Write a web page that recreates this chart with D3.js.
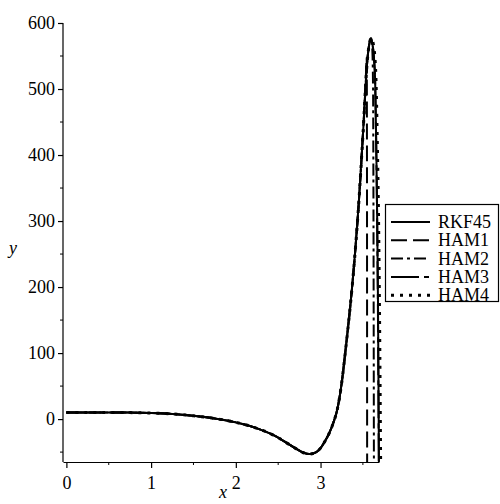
<!DOCTYPE html>
<html>
<head>
<meta charset="utf-8">
<script src="https://cdn.jsdelivr.net/npm/d3@7"></script>
<style>
  body { margin: 0; background: #fff; }
  text { font-family: "Liberation Serif", "Times New Roman", serif; }
</style>
</head>
<body>
<svg id="chart"></svg>
<script>
// common part of every solution (they all agree until the blow-up)
const commonX = [0, 0.25, 0.5, 0.75, 1.0, 1.25, 1.5, 1.75, 2.0, 2.25, 2.5, 2.6, 2.7, 2.8, 2.87, 2.95, 3.0, 3.05, 3.1, 3.15, 3.2, 3.25, 3.3, 3.35, 3.4, 3.45, 3.5];
const commonY = [10, 10, 10, 9.8, 9.2, 7.8, 5, 1, -5, -14, -28, -36, -44, -51, -53, -50, -44, -34, -22, -6, 16, 55, 110, 170, 240, 325, 430];

// tails after x = 3.5, one per curve
const rkfX  = [3.55, 3.575, 3.595, 3.61, 3.63, 3.645, 3.657, 3.667, 3.678, 3.69];
const rkfY  = [540, 568, 577, 570, 548, 510, 420, 320, 180, -80];
const ham1X = [3.53, 3.545, 3.548, 3.55];
const ham1Y = [500, 548, 400, -80];
const ham2X = [3.55, 3.575, 3.595, 3.61, 3.62, 3.625, 3.63];
const ham2Y = [540, 568, 577, 562, 500, 300, -80];
const ham3X = [3.55, 3.575, 3.595, 3.61, 3.63, 3.645, 3.657, 3.667, 3.677, 3.688];
const ham3Y = [540, 568, 577, 570, 548, 508, 415, 315, 170, -80];
const ham4X = [3.55, 3.575, 3.6, 3.62, 3.65, 3.67, 3.685, 3.7, 3.71];
const ham4Y = [540, 568, 577, 570, 530, 420, 300, 100, -80];

const seriesNames = ['RKF45', 'HAM1', 'HAM2', 'HAM3', 'HAM4'];
const yTicks = [0, 100, 200, 300, 400, 500, 600];
const xTicks = [0, 1, 2, 3];

function build(tx, ty) {
    const pts = commonX.map((x, i) => [x, commonY[i]]);
    return pts.concat(tx.map((x, i) => [x, ty[i]]));
}

const tails = [[rkfX, rkfY], [ham1X, ham1Y], [ham2X, ham2Y], [ham3X, ham3Y], [ham4X, ham4Y]];
const dashes = [null, '16,6', '12,4,3,4', '28,5,5,5', '3,6'];
const series = seriesNames.map((name, i) => ({
    name: name,
    pts: build(tails[i][0], tails[i][1]),
    dash: dashes[i]
}));

const W = 500, H = 504;
const serif = '"Liberation Serif", "Times New Roman", serif';
const svg = d3.select('#chart').attr('width', W).attr('height', H);

const x = d3.scaleLinear().domain([-0.04, 3.69]).range([63, 379]);
const y = d3.scaleLinear().domain([-65, 600]).range([462, 23]);

// clip only vertically
svg.append('defs').append('clipPath').attr('id', 'clip')
    .append('rect').attr('x', 0).attr('y', y(600) - 2).attr('width', W).attr('height', y(-65) - y(600) + 2);

// axes
const yAxis = svg.append('g').attr('transform', `translate(${x.range()[0]},0)`);
yAxis.call(d3.axisLeft(y).tickValues(yTicks).tickFormat(d3.format('d'))
    .tickSize(5).tickPadding(3).tickSizeOuter(0));
yAxis.append('g').selectAll('line')
    .data(d3.range(-50, 600, 100))
    .join('line')
    .attr('x1', -3).attr('x2', 0)
    .attr('y1', d => y(d)).attr('y2', d => y(d))
    .attr('stroke', '#000');
yAxis.select('.domain').attr('d', `M0,${y(600)}V${y(-65)}`);

const xAxis = svg.append('g').attr('transform', `translate(0,${y.range()[0]})`);
xAxis.call(d3.axisBottom(x).tickValues(xTicks).tickFormat(d3.format('d'))
    .tickSize(6).tickPadding(8).tickSizeOuter(0));
xAxis.append('g').selectAll('line')
    .data([0.5, 1.5, 2.5, 3.5])
    .join('line')
    .attr('x1', d => x(d)).attr('x2', d => x(d))
    .attr('y1', 0).attr('y2', 3)
    .attr('stroke', '#000');

[xAxis, yAxis].forEach(g => g.attr('font-family', serif).attr('font-size', 18));
svg.selectAll('.domain, .tick line').attr('stroke', '#000').attr('stroke-width', 1.2);
svg.selectAll('.tick text').attr('fill', '#000');

// axis titles
svg.append('text').attr('x', 13).attr('y', 254).attr('text-anchor', 'middle')
    .attr('font-size', 18).attr('font-style', 'italic').text('y');
svg.append('text').attr('x', 223).attr('y', 498).attr('text-anchor', 'middle')
    .attr('font-size', 18).attr('font-style', 'italic').text('x');

// curves
const line = d3.line().x(d => x(d[0])).y(d => y(d[1])).curve(d3.curveMonotoneX);
svg.append('g').attr('clip-path', 'url(#clip)')
    .selectAll('path')
    .data(series)
    .join('path')
    .attr('d', d => line(d.pts))
    .attr('fill', 'none')
    .attr('stroke', '#000')
    .attr('stroke-width', d => d.name === 'HAM4' ? 3 : 2)
    .attr('stroke-dasharray', d => d.dash);

// legend
const legend = svg.append('g');
legend.append('rect')
    .attr('x', 385.5).attr('y', 204.5).attr('width', 113).attr('height', 97)
    .attr('fill', '#fff').attr('stroke', '#000').attr('stroke-width', 1.2);
const rows = legend.selectAll('g.row')
    .data(series)
    .join('g')
    .attr('class', 'row')
    .attr('transform', (d, i) => `translate(0,${222 + i * 18.3})`);
rows.append('line')
    .attr('x1', 391).attr('x2', 430)
    .attr('stroke', '#000')
    .attr('stroke-width', d => d.name === 'HAM4' ? 3 : 2)
    .attr('stroke-dasharray', d => d.dash);
rows.append('text')
    .attr('x', 438).attr('y', 6)
    .attr('font-size', 18)
    .text(d => d.name);
</script>
</body>
</html>
